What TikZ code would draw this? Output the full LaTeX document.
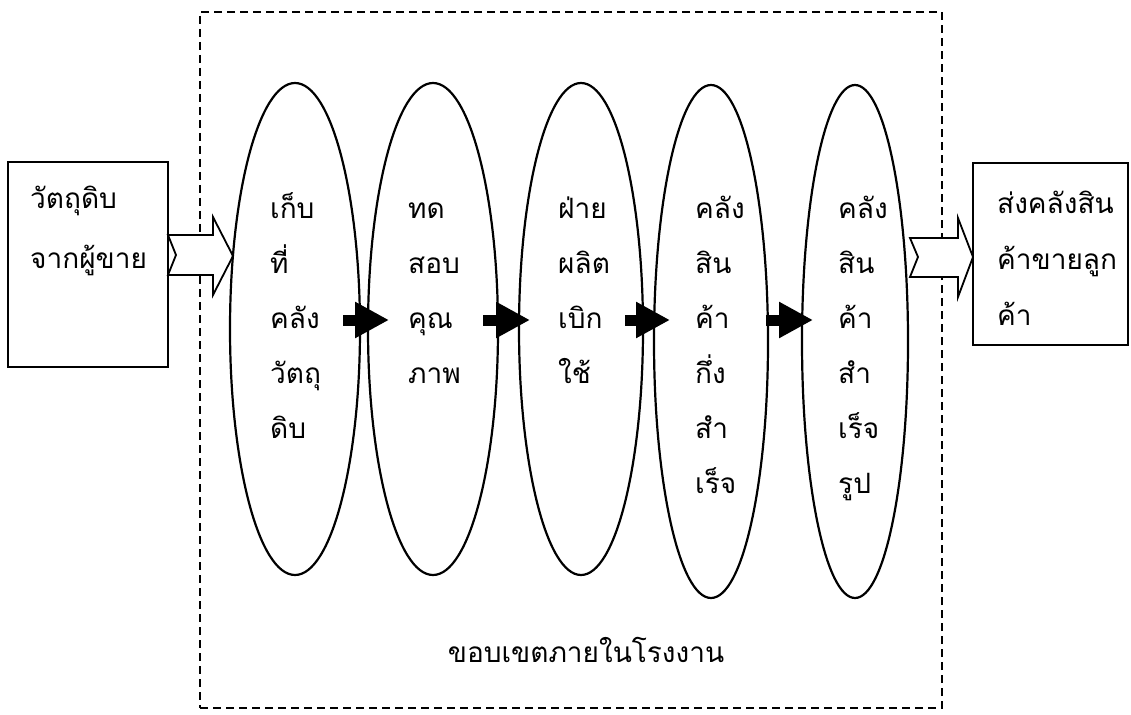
\documentclass[tikz,border=0pt]{standalone}
\usepackage{fontspec}
\newfontfamily\thaifont[Script=Thai]{Loma}
\usetikzlibrary{shapes.geometric,arrows.meta}
\begin{document}
\begin{tikzpicture}[x=1pt,y=-1pt,
  oval/.style={ellipse,draw,line width=2.2pt,inner sep=0pt},
  box/.style={draw,line width=2pt,inner sep=0pt},
  frame/.style={draw,line width=1.8pt,dash pattern=on 8pt off 5pt,inner sep=0pt},
  txt/.style={font=\thaifont\fontsize{28}{34}\selectfont,inner sep=0pt,anchor=base west},
  hollow/.style={fill=white,draw,line width=1.8pt,line join=miter},
  flow/.style={line width=11pt,-{Triangle[length=34pt,width=34pt]}}]
\useasboundingbox (0,0) rectangle (1131,714);
% frame
\node[frame,minimum width=742pt,minimum height=696pt] (fr) at (571,360) {};
% boxes
\node[box,minimum width=160pt,minimum height=205pt] (lb) at (88,264.5) {};
\node[box,minimum width=155pt,minimum height=182pt] (rb) at (1050.5,254) {};
% hollow arrows
\filldraw[hollow] (168,235) -- (213,235) -- (213,217) -- (233,256) -- (213,295) -- (213,275) -- (168,275) -- (176,255) -- cycle;
\filldraw[hollow] (910,238) -- (958,238) -- (958,218) -- (973,257) -- (958,297) -- (958,277) -- (910,277) -- (918,257) -- cycle;
% ellipses
\node[oval,minimum width=130pt,minimum height=492pt] (e1) at (295,329) {};
\node[oval,minimum width=130pt,minimum height=492pt] (e2) at (433,329) {};
\node[oval,minimum width=124pt,minimum height=492pt] (e3) at (581,329) {};
\node[oval,minimum width=114pt,minimum height=513pt] (e4) at (711,341.5) {};
\node[oval,minimum width=106pt,minimum height=513pt] (e5) at (855,341.5) {};
% black arrows
\coordinate (a1s) at (343,320); \coordinate (a1e) at (389,320);
\coordinate (a2s) at (483,320); \coordinate (a2e) at (530,320);
\coordinate (a3s) at (625,320); \coordinate (a3e) at (670,320);
\coordinate (a4s) at (766,320); \coordinate (a4e) at (813,320);
\draw[flow] (a1s) -- (a1e);
\draw[flow] (a2s) -- (a2e);
\draw[flow] (a3s) -- (a3e);
\draw[flow] (a4s) -- (a4e);
% texts
\node[txt] (l1) at (30,208) {วัตถุดิบ};
\node[txt] (l2) at (30,268) {จากผู้ขาย};
\node[txt] (r1) at (997,213) {ส่งคลังสิน};
\node[txt] (r2) at (997,269) {ค้าขายลูก};
\node[txt] (r3) at (997,325) {ค้า};
\foreach \t [count=\i] in {เก็บ,ที่,คลัง,วัตถุ,ดิบ}
  \node[txt] (e1t\i) at (270,{218+55*(\i-1)}) {\t};
\foreach \t [count=\i] in {ทด,สอบ,คุณ,ภาพ}
  \node[txt] (e2t\i) at (408,{218+55*(\i-1)}) {\t};
\foreach \t [count=\i] in {ฝ่าย,ผลิต,เบิก,ใช้}
  \node[txt] (e3t\i) at (558,{218+55*(\i-1)}) {\t};
\foreach \t [count=\i] in {คลัง,สิน,ค้า,กึ่ง,สำ,เร็จ}
  \node[txt] (e4t\i) at (695,{218+55*(\i-1)}) {\t};
\foreach \t [count=\i] in {คลัง,สิน,ค้า,สำ,เร็จ,รูป}
  \node[txt] (e5t\i) at (838,{218+55*(\i-1)}) {\t};
\node[txt,anchor=base] (lbl) at (586,662) {ขอบเขตภายในโรงงาน};
\end{tikzpicture}
\end{document}
